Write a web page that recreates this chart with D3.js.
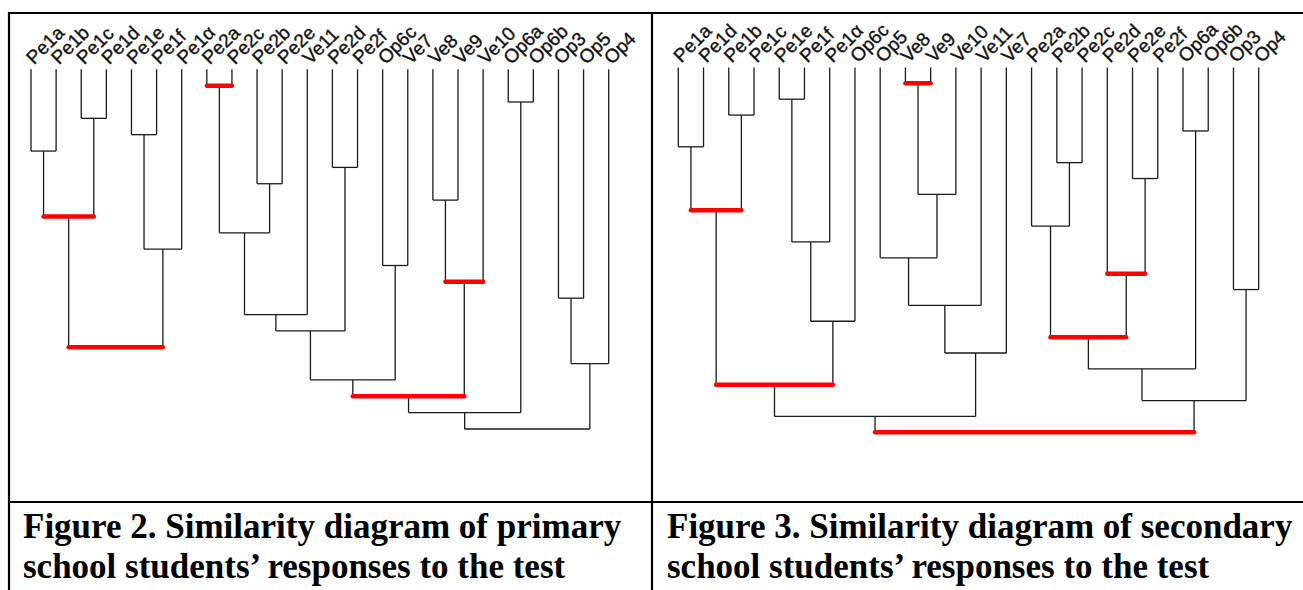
<!DOCTYPE html>
<html>
<head>
<meta charset="utf-8">
<script src="https://cdn.jsdelivr.net/npm/d3@7"></script>
<style>
  body { margin: 0; background: #fff; }
  .leaf-label { font-family: "Liberation Sans", Arial, sans-serif; font-size: 19px; fill: #111; stroke: #111; stroke-width: 0.35px; }
  .caption { font-family: "Liberation Serif", "Times New Roman", serif; font-weight: bold; font-size: 35px; fill: #000; }
</style>
</head>
<body>
<svg id="chart" width="1303" height="590"></svg>
<script>
// leaf order along the bottom of each tree
const leftLabels = ["Pe1a", "Pe1b", "Pe1c", "Pe1d", "Pe1e", "Pe1f", "Pe1α", "Pe2a", "Pe2c", "Pe2b", "Pe2e", "Ve11",
  "Pe2d", "Pe2f", "Op6c", "Ve7", "Ve8", "Ve9", "Ve10", "Op6a", "Op6b", "Op3", "Op5", "Op4"];
const rightLabels = ["Pe1a", "Pe1d", "Pe1b", "Pe1c", "Pe1e", "Pe1f", "Pe1α", "Op6c", "Op5", "Ve8", "Ve9", "Ve10",
  "Ve11", "Ve7", "Pe2a", "Pe2b", "Pe2c", "Pe2d", "Pe2e", "Pe2f", "Op6a", "Op6b", "Op3", "Op4"];

// merges in order of formation (level 1, 2, ...): [node, child, child]
const leftMerges = [
  ["L1", "Pe2a", "Pe2c"],
  ["L2", "Op6a", "Op6b"],
  ["L3", "Pe1c", "Pe1d"],
  ["L4", "Pe1e", "Pe1f"],
  ["L5", "Pe1a", "Pe1b"],
  ["L6", "Pe2d", "Pe2f"],
  ["L7", "Pe2b", "Pe2e"],
  ["L8", "Ve8", "Ve9"],
  ["L9", "L5", "L3"],
  ["L10", "L1", "L7"],
  ["L11", "L4", "Pe1α"],
  ["L12", "Op6c", "Ve7"],
  ["L13", "L8", "Ve10"],
  ["L14", "Op3", "Op5"],
  ["L15", "L10", "Ve11"],
  ["L16", "L15", "L6"],
  ["L17", "L9", "L11"],
  ["L18", "L14", "Op4"],
  ["L19", "L16", "L12"],
  ["L20", "L19", "L13"],
  ["L21", "L20", "L2"],
  ["L22", "L21", "L18"]
];
const leftSignificant = ["L1", "L9", "L13", "L17", "L20"];

const rightMerges = [
  ["R1", "Ve8", "Ve9"],
  ["R2", "Pe1e", "Pe1f"],
  ["R3", "Pe1b", "Pe1c"],
  ["R4", "Op6a", "Op6b"],
  ["R5", "Pe1a", "Pe1d"],
  ["R6", "Pe2b", "Pe2c"],
  ["R7", "Pe2e", "Pe2f"],
  ["R8", "R1", "Ve10"],
  ["R9", "R5", "R3"],
  ["R10", "Pe2a", "R6"],
  ["R11", "R2", "Pe1α"],
  ["R12", "Op5", "R8"],
  ["R13", "Pe2d", "R7"],
  ["R14", "Op3", "Op4"],
  ["R15", "R12", "Ve11"],
  ["R16", "R11", "Op6c"],
  ["R17", "R10", "R13"],
  ["R18", "R15", "Ve7"],
  ["R19", "R17", "R4"],
  ["R20", "R9", "R16"],
  ["R21", "R19", "R14"],
  ["R22", "R20", "R18"],
  ["R23", "R22", "R21"]
];
const rightSignificant = ["R1", "R9", "R13", "R17", "R20", "R23"];

const captions = [
  ["Figure 2. Similarity diagram of primary", "school students’ responses to the test"],
  ["Figure 3. Similarity diagram of secondary", "school students’ responses to the test"]
];

const svg = d3.select("#chart");

function drawTree(labels, merges, significant, xRange, yRange) {
  const g = svg.append("g");
  const x = d3.scalePoint().domain(labels).range(xRange);
  const y = d3.scaleLinear().domain([0, merges.length]).range(yRange);

  const pos = {};
  labels.forEach(l => { pos[l] = { x: x(l), y: y(0) }; });

  const stems = [];
  const bars = [];
  merges.forEach((m, i) => {
    const a = pos[m[1]], b = pos[m[2]];
    const my = y(i + 1);
    pos[m[0]] = { x: (a.x + b.x) / 2, y: my };
    stems.push([a.x, a.y, a.x, my], [b.x, b.y, b.x, my]);
    bars.push({ x1: a.x, x2: b.x, y: my, red: significant.includes(m[0]) });
  });

  g.selectAll(".stem")
    .data(stems)
    .enter()
    .append("line")
    .attr("x1", d => d[0]).attr("y1", d => d[1])
    .attr("x2", d => d[2]).attr("y2", d => d[3])
    .attr("stroke", "#1a1a1a")
    .attr("stroke-width", 1.3);

  g.selectAll(".bar")
    .data(bars)
    .enter()
    .append("line")
    .attr("x1", d => d.x1).attr("x2", d => d.x2)
    .attr("y1", d => d.y).attr("y2", d => d.y)
    .attr("stroke", d => d.red ? "#ff0000" : "#1a1a1a")
    .attr("stroke-width", d => d.red ? 4.5 : 1.3)
    .attr("stroke-linecap", d => d.red ? "round" : "butt");

  g.selectAll(".leaf-label")
    .data(labels)
    .enter()
    .append("text")
    .attr("class", "leaf-label")
    .attr("transform", d => `translate(${x(d) + 3},${y(0) - 4}) rotate(-45)`)
    .text(d => d);
}

drawTree(leftLabels, leftMerges, leftSignificant, [31, 608.7], [69.3, 429]);
drawTree(rightLabels, rightMerges, rightSignificant, [678.3, 1258.7], [67.5, 432.3]);

// table frame
const frame = [
  [8, 13, 1303, 13],
  [9, 12, 9, 590],
  [652, 12, 652, 590],
  [8, 502, 1303, 502]
];
svg.selectAll(".frame")
  .data(frame)
  .enter()
  .append("line")
  .attr("x1", d => d[0]).attr("y1", d => d[1])
  .attr("x2", d => d[2]).attr("y2", d => d[3])
  .attr("stroke", "#000")
  .attr("stroke-width", 2.2);

captions.forEach((lines, i) => {
  svg.append("text")
    .attr("class", "caption")
    .attr("x", i === 0 ? 23 : 667)
    .attr("y", 538)
    .selectAll("tspan")
    .data(lines)
    .enter()
    .append("tspan")
    .attr("x", i === 0 ? 23 : 667)
    .attr("dy", (d, j) => j === 0 ? 0 : 40)
    .text(d => d);
});
</script>
</body>
</html>
